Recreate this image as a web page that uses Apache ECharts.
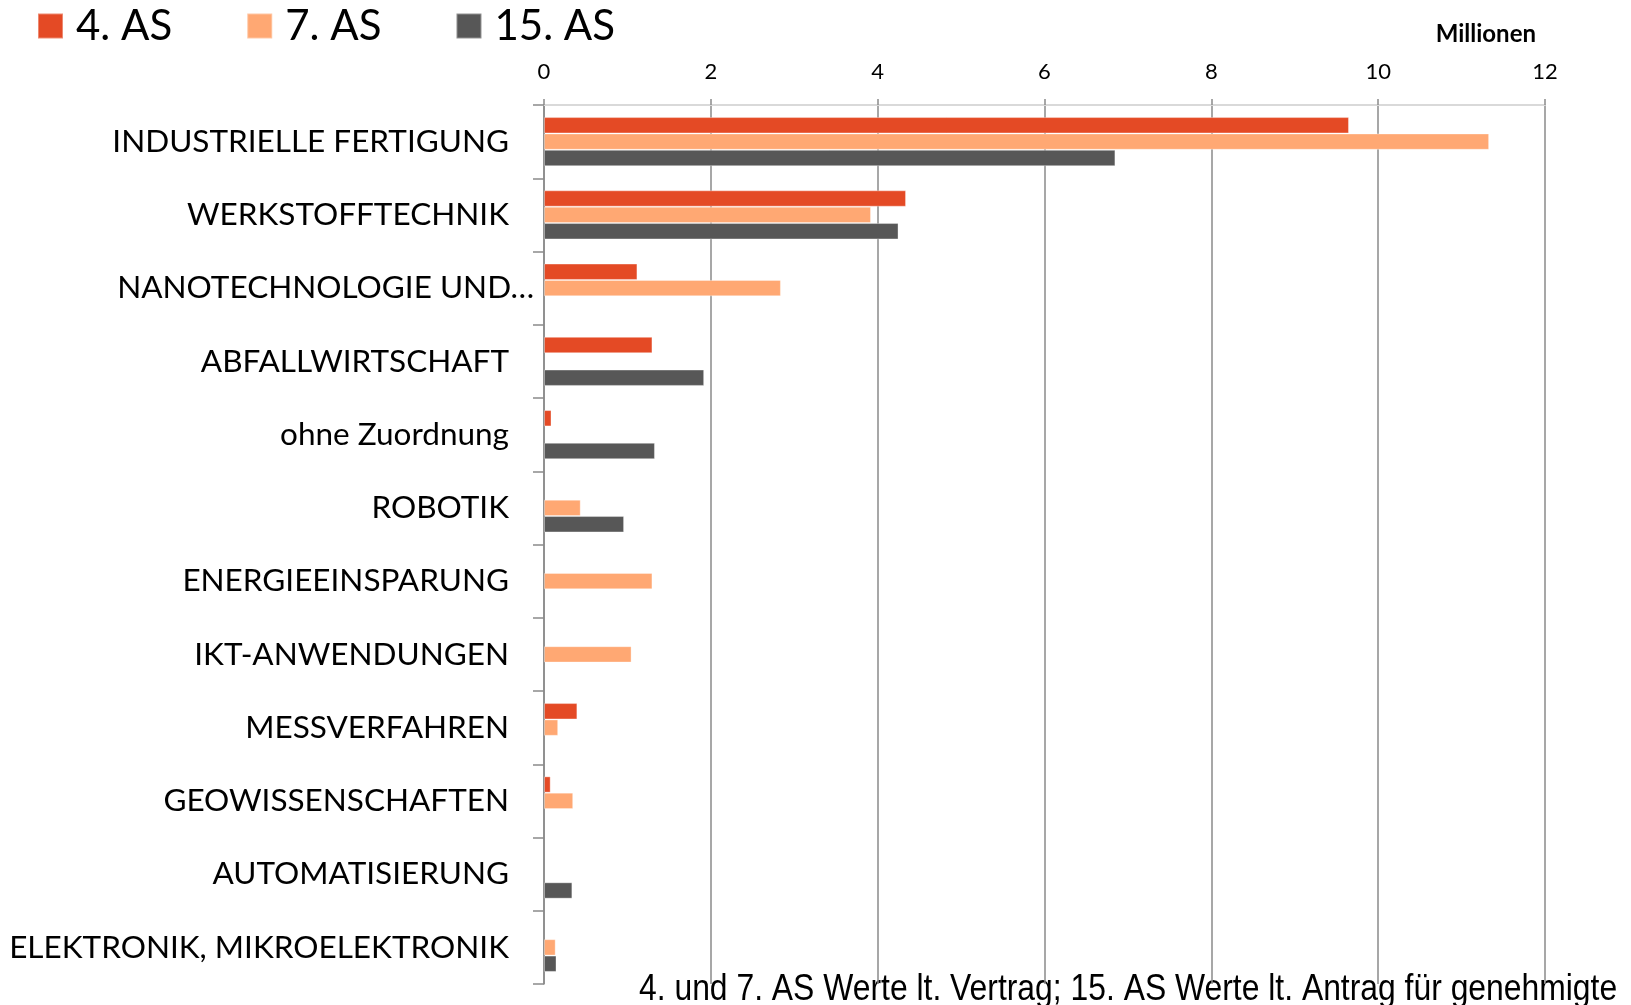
<!DOCTYPE html>
<html>
<head>
<meta charset="utf-8">
<script src="https://cdn.jsdelivr.net/npm/echarts@6/dist/echarts.min.js"></script>
<style>
  html, body { margin: 0; padding: 0; background: #fff; }
  #chart { width: 1631px; height: 1005px; }
</style>
</head>
<body>
<div id="chart"></div>
<script>
// categories, top to bottom
const categories = [
  'INDUSTRIELLE FERTIGUNG',
  'WERKSTOFFTECHNIK',
  'NANOTECHNOLOGIE UND…',
  'ABFALLWIRTSCHAFT',
  'ohne Zuordnung',
  'ROBOTIK',
  'ENERGIEEINSPARUNG',
  'IKT-ANWENDUNGEN',
  'MESSVERFAHREN',
  'GEOWISSENSCHAFTEN',
  'AUTOMATISIERUNG',
  'ELEKTRONIK, MIKROELEKTRONIK'
];
const seriesNames = ['4. AS', '7. AS', '15. AS'];
// values in Millionen
const as4  = [9.65, 4.34, 1.12, 1.30, 0.09, null, null, null, 0.40, 0.08, null, null];
const as7  = [11.33, 3.92, 2.84, null, null, 0.44, 1.30, 1.05, 0.17, 0.35, null, 0.14];
const as15 = [6.85, 4.25, null, 1.92, 1.33, 0.96, null, null, null, null, 0.34, 0.15];
const xTicks = [0, 2, 4, 6, 8, 10, 12];
const footnote = '4. und 7. AS Werte lt. Vertrag; 15. AS Werte lt. Antrag für genehmigte';

const colors = ['#E44A25', '#FFA873', '#575757'];
const font = 'Lato';

const chart = echarts.init(document.getElementById('chart'));

function barSeries(name, data) {
  return {
    name,
    type: 'bar',
    data,
    barGap: '0%',
    barCategoryGap: '33%',
    itemStyle: { borderColor: 'rgba(255,255,255,0.35)', borderWidth: 1 }
  };
}

chart.setOption({
  animation: false,
  color: colors,
  textStyle: { fontFamily: font },
  legend: {
    left: 32,
    top: 0,
    itemWidth: 25,
    itemHeight: 25,
    itemGap: 74,
    icon: 'rect',
    textStyle: { fontSize: 42, color: '#000', fontFamily: font, padding: [0, 0, 0, 8] },
    data: seriesNames
  },
  grid: { left: 544, right: 86, top: 105, bottom: 21 },
  xAxis: {
    type: 'value',
    position: 'top',
    min: 0,
    max: 12,
    interval: 2,
    axisLine: { show: true, lineStyle: { color: '#d9d9d9', width: 2 } },
    axisTick: { show: true, length: 6, lineStyle: { color: '#8a8a8a', width: 1.5 } },
    axisLabel: { fontSize: 22, color: '#000', margin: 22, fontFamily: font,
      formatter: v => xTicks.includes(v) ? String(v) : '' },
    splitLine: { show: true, lineStyle: { color: '#8a8a8a', width: 1.5 } }
  },
  yAxis: {
    type: 'category',
    inverse: true,
    data: categories,
    axisLine: { show: true, lineStyle: { color: '#8a8a8a', width: 1.5 } },
    axisTick: { show: true, length: 11, lineStyle: { color: '#8a8a8a', width: 1.5 } },
    axisLabel: {
      margin: 10,
      formatter: v => v.endsWith('…') ? '{n|' + v + '}' : '{a|' + v + '}',
      rich: {
        a: { fontSize: 31.5, color: '#000', fontFamily: font, padding: [0, 25, 0, 0] },
        n: { fontSize: 31.5, color: '#000', fontFamily: font }
      }
    }
  },
  graphic: [
    {
      type: 'text',
      right: 1631 - 1536,
      top: 22,
      style: { text: 'Millionen', font: 'bold 24px ' + font, fill: '#000' }
    },
    {
      type: 'text',
      x: 639,
      y: 972,
      scaleX: 0.885,
      style: { text: footnote, font: '36px "Liberation Sans"', fill: '#000' }
    }
  ],
  series: [
    barSeries(seriesNames[0], as4),
    barSeries(seriesNames[1], as7),
    barSeries(seriesNames[2], as15)
  ]
});
</script>
</body>
</html>
